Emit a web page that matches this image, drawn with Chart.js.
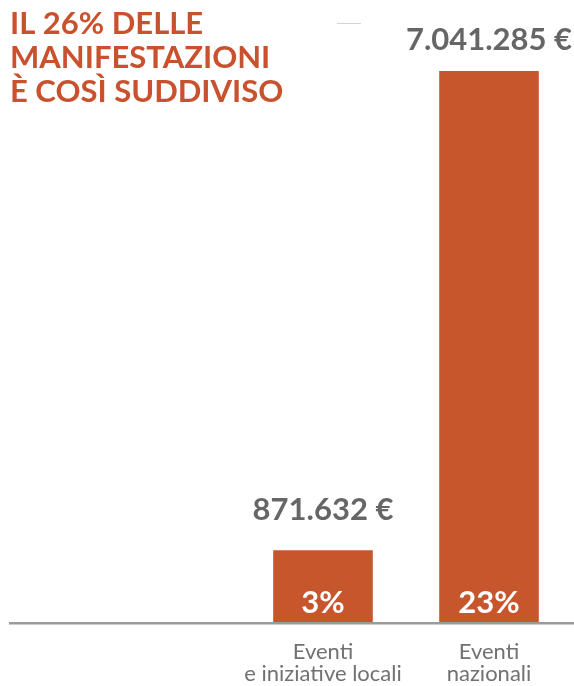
<!DOCTYPE html>
<html lang="it">
<head>
<meta charset="utf-8">
<title>Manifestazioni</title>
<script src="https://cdn.jsdelivr.net/npm/chart.js@4"></script>
<style>
  html, body { margin: 0; padding: 0; background: #fff; }
  #wrap { width: 574px; height: 686px; position: relative; }
</style>
</head>
<body>
<div id="wrap"><canvas id="manifChart"></canvas></div>
<script>
// data
const categories = [["Eventi", "e iniziative locali"], ["Eventi", "nazionali"]];
const percentages = [3, 23];
const amounts = ["871.632 €", "7.041.285 €"];
const titleLines = ["IL 26% DELLE", "MANIFESTAZIONI", "È COSÌ SUDDIVISO"];

const ORANGE = "#C7562C";
const TITLE_COLOR = "#C9512D";
const FONT = "Lato, 'Open Sans', sans-serif";

const decorPlugin = {
    id: "decor",
    afterDatasetsDraw(chart) {
        const { ctx, chartArea } = chart;
        const meta = chart.getDatasetMeta(0);
        ctx.save();

        // baseline across the full width
        ctx.strokeStyle = "#9a9a9a";
        ctx.lineWidth = 2.5;
        ctx.beginPath();
        ctx.moveTo(9, chartArea.bottom + 1.2);
        ctx.lineTo(chart.width, chartArea.bottom + 1.2);
        ctx.stroke();

        // small stray dash near the top
        ctx.strokeStyle = "#ecc9d5";
        ctx.lineWidth = 1;
        ctx.beginPath();
        ctx.moveTo(337, 23.5);
        ctx.lineTo(361, 23.5);
        ctx.stroke();

        ctx.textAlign = "center";
        ctx.textBaseline = "alphabetic";
        ctx.font = "bold 31px " + FONT;
        meta.data.forEach((bar, i) => {
            // amount above the bar
            ctx.fillStyle = "#666666";
            ctx.fillText(amounts[i], bar.x, Math.max(bar.y - 30, 50));
            // percentage inside the bar
            ctx.fillStyle = "#ffffff";
            ctx.fillText(percentages[i] + "%", bar.x, chartArea.bottom - 9);
        });

        // title
        ctx.textAlign = "left";
        ctx.fillStyle = TITLE_COLOR;
        titleLines.forEach((line, i) => {
            ctx.fillText(line, 10, 34 + i * 34);
        });
        ctx.restore();
    }
};

const ctx = document.getElementById("manifChart").getContext("2d");
new Chart(ctx, {
    type: "bar",
    data: {
        labels: categories,
        datasets: [{
            data: percentages,
            backgroundColor: ORANGE,
            borderWidth: 0,
            barPercentage: 0.6,
            categoryPercentage: 1
        }]
    },
    options: {
        responsive: true,
        maintainAspectRatio: false,
        animation: false,
        layout: {
            padding: { left: 240, right: 2, top: 71, bottom: 0 }
        },
        plugins: {
            legend: { display: false },
            tooltip: { enabled: false }
        },
        scales: {
            x: {
                grid: { display: false, drawTicks: false },
                border: { display: false },
                afterFit(scale) { scale.height = 64; },
                ticks: {
                    color: "#717171",
                    padding: 19,
                    maxRotation: 0,
                    font: { family: FONT, size: 22, lineHeight: 1.0 }
                }
            },
            y: {
                display: false,
                min: 0,
                max: 23
            }
        }
    },
    plugins: [decorPlugin]
});
</script>
</body>
</html>
